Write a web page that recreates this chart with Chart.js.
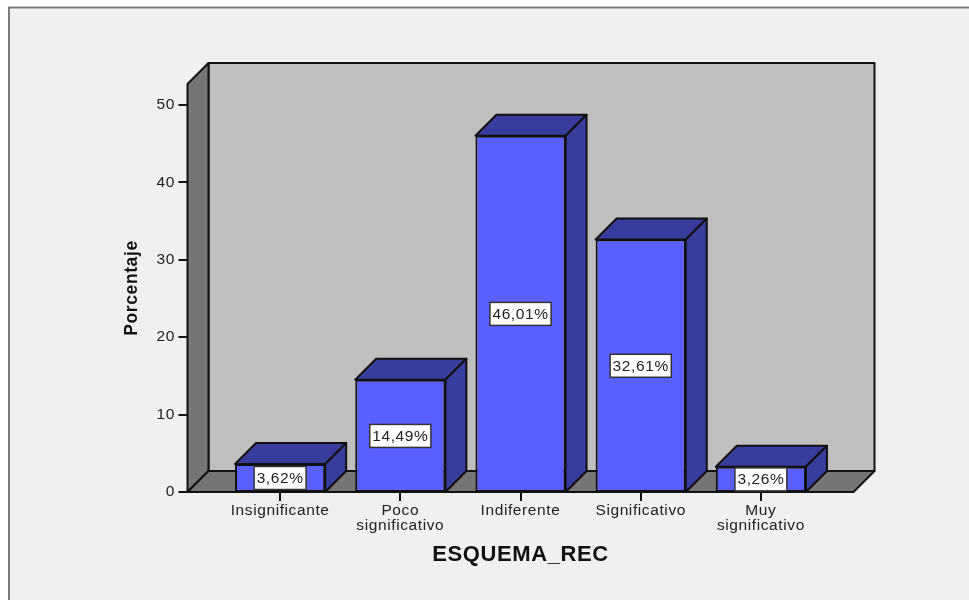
<!DOCTYPE html>
<html><head><meta charset="utf-8">
<script src="https://cdn.jsdelivr.net/npm/chart.js@4"></script>
<style>html,body{margin:0;padding:0;background:#fff}canvas{display:block}</style>
</head><body>
<div style="width:969px;height:600px"><canvas id="c" width="969" height="600"></canvas></div>
<script>
const categories = [["Insignificante"],["Poco","significativo"],["Indiferente"],["Significativo"],["Muy","significativo"]];
const values = [3.62,14.49,46.01,32.61,3.26];
const yTicks = [0,10,20,30,40,50];
const yTitle = "Porcentaje";
const xTitle = "ESQUEMA_REC";
const wallTop = 52.7;
const depth = 21, sideW = 32.5;
const front='#5a60ff', dark='#383c9c', wall='#bfbfbf', shade='#757575', line='#111';
function poly(ctx,pts,fill){ctx.beginPath();pts.forEach((p,i)=>i?ctx.lineTo(p[0],p[1]):ctx.moveTo(p[0],p[1]));ctx.closePath();ctx.fillStyle=fill;ctx.fill();ctx.strokeStyle=line;ctx.lineWidth=2;ctx.lineJoin='round';ctx.stroke();}
const threeD={id:'threeD',
 beforeDraw(ch){const c=ch.ctx;c.letterSpacing='0.6px';c.save();c.fillStyle='#fff';c.fillRect(0,0,969,600);c.fillStyle='#f0f0f0';c.fillRect(9,7,960,593);c.strokeStyle='#7d7d7d';c.lineWidth=2;c.beginPath();c.moveTo(9,600);c.lineTo(9,7.5);c.lineTo(969,7.5);c.stroke();c.restore();},
 beforeDatasetsDraw(ch){const c=ch.ctx,y=ch.scales.y,a=ch.chartArea;const l=a.left-sideW,r=a.right+sideW,b=y.getPixelForValue(0),t=y.getPixelForValue(wallTop);
  c.save();
  poly(c,[[l+depth,t-depth],[r+depth,t-depth],[r+depth,b-depth],[l+depth,b-depth]],wall);
  poly(c,[[l,t],[l+depth,t-depth],[l+depth,b-depth],[l,b]],shade);
  poly(c,[[l,b],[l+depth,b-depth],[r+depth,b-depth],[r,b]],shade);
  c.strokeStyle=line;c.lineWidth=2;
  yTicks.forEach(v=>{const p=Math.round(y.getPixelForValue(v));c.beginPath();c.moveTo(l-9,p);c.lineTo(l,p);c.stroke();});
  const m=ch.getDatasetMeta(0);
  m.data.forEach(e=>{const x0=e.x-e.width/2,x1=e.x+e.width/2,yt=e.y,yb=b;
   poly(c,[[x0,yt],[x0+depth,yt-depth],[x1+depth,yt-depth],[x1,yt]],dark);
   poly(c,[[x1,yt],[x1+depth,yt-depth],[x1+depth,yb-depth],[x1,yb]],dark);
  });
  c.restore();},
 afterDatasetsDraw(ch){const c=ch.ctx,y=ch.scales.y,m=ch.getDatasetMeta(0);c.save();
  c.font='15.5px "Liberation Sans"';c.textAlign='center';c.textBaseline='middle';
  m.data.forEach((e,i)=>{const s=values[i].toFixed(2).replace('.',',')+'%';const w=c.measureText(s).width+5,h=23;
   const my=(e.y+y.getPixelForValue(0))/2;
   c.fillStyle='#fff';c.fillRect(e.x-w/2,my-h/2,w,h);c.strokeStyle='#333';c.lineWidth=1.5;c.strokeRect(e.x-w/2,my-h/2,w,h);
   c.fillStyle='#222';c.fillText(s,e.x,my+0.5);});
  c.restore();}
};
new Chart(document.getElementById('c'),{type:'bar',plugins:[threeD],
 data:{labels:categories,datasets:[{data:values,backgroundColor:front,borderColor:line,borderWidth:2,borderSkipped:false,barPercentage:1,categoryPercentage:0.75}]},
 options:{responsive:false,animation:false,devicePixelRatio:1,
  layout:{padding:{top:84,right:148,bottom:32,left:122}},
  plugins:{legend:{display:false},tooltip:{enabled:false}},
  scales:{
   x:{grid:{display:true,offset:false,drawOnChartArea:false,drawTicks:true,tickLength:9,color:line,lineWidth:2},border:{display:false},
      ticks:{color:'#222',font:{family:'Liberation Sans',size:15.5,lineHeight:0.98},padding:2,maxRotation:0,autoSkip:false},
      title:{display:true,text:xTitle,color:'#111',font:{family:'Liberation Sans',size:22,weight:'bold'},padding:{top:8,bottom:0}},
      afterFit(s){s.height=76;}},
   y:{min:0,max:wallTop,ticks:{color:'#222',font:{family:'Liberation Sans',size:15.5},padding:45},
      afterBuildTicks(s){s.ticks=yTicks.map(v=>({value:v}));},
      grid:{display:false,drawTicks:false},border:{display:false},
      title:{display:true,text:yTitle,color:'#111',font:{family:'Liberation Sans',size:17.5,weight:'bold'},padding:{top:0,bottom:0}},
      afterFit(s){s.width=98;}}
  }}});
</script></body></html>
